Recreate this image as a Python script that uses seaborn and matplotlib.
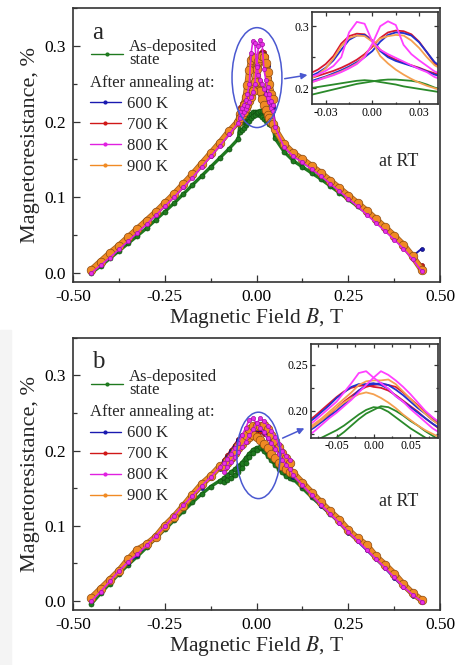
import matplotlib
matplotlib.use("Agg")
import matplotlib.pyplot as plt
import matplotlib.patheffects as pe
import seaborn as sns
from matplotlib.lines import Line2D
from matplotlib.patches import Ellipse, Rectangle
from matplotlib.ticker import MultipleLocator, FormatStrFormatter

# ---------------- data ----------------
LABELS = {"green": "As-deposited\nstate", "blue": "600 K", "red": "700 K",
          "magenta": "800 K", "orange": "900 K"}

# panel a: field grids (T)
A_B_LEFT = [-0.45, -0.425, -0.40, -0.375, -0.35, -0.325, -0.30, -0.275, -0.25,
            -0.225, -0.20, -0.175, -0.15, -0.125, -0.10, -0.075, -0.05]
A_B_RIGHT = [0.05, 0.075, 0.10, 0.125, 0.15, 0.175, 0.20, 0.225, 0.25,
             0.275, 0.30, 0.325, 0.35, 0.375, 0.40, 0.425, 0.45]
A_B_CORE = [-0.045, -0.04, -0.035, -0.03, -0.025, -0.02, -0.015, -0.01, -0.005, 0.0,
            0.005, 0.01, 0.015, 0.02, 0.025, 0.03, 0.035, 0.04, 0.045]

# panel a: magnetoresistance (%)
A_LEFT = {
    "green":   [0.000, 0.009, 0.019, 0.029, 0.039, 0.049, 0.059, 0.070, 0.081, 0.092, 0.104, 0.116, 0.128, 0.140, 0.152, 0.164, 0.177],
    "blue":    [0.001, 0.011, 0.022, 0.033, 0.044, 0.055, 0.066, 0.077, 0.089, 0.101, 0.114, 0.127, 0.141, 0.155, 0.169, 0.183, 0.197],
    "red":     [0.002, 0.012, 0.023, 0.034, 0.045, 0.056, 0.067, 0.078, 0.090, 0.102, 0.115, 0.128, 0.142, 0.156, 0.170, 0.185, 0.199],
    "magenta": [0.000, 0.010, 0.020, 0.031, 0.042, 0.053, 0.064, 0.076, 0.088, 0.100, 0.113, 0.126, 0.140, 0.154, 0.168, 0.183, 0.198],
    "orange":  [0.004, 0.015, 0.026, 0.036, 0.047, 0.058, 0.069, 0.080, 0.092, 0.104, 0.117, 0.130, 0.144, 0.158, 0.172, 0.187, 0.200],
}
A_RIGHT = {
    "green":   [0.178, 0.160, 0.148, 0.140, 0.132, 0.124, 0.115, 0.106, 0.097, 0.088, 0.079, 0.069, 0.059, 0.048, 0.036, 0.022, 0.006],
    "blue":    [0.195, 0.167, 0.155, 0.147, 0.138, 0.129, 0.119, 0.109, 0.099, 0.089, 0.079, 0.068, 0.057, 0.046, 0.035, 0.022, 0.032],
    "red":     [0.195, 0.168, 0.156, 0.148, 0.139, 0.130, 0.120, 0.110, 0.100, 0.090, 0.080, 0.069, 0.059, 0.048, 0.037, 0.024, 0.010],
    "magenta": [0.193, 0.166, 0.154, 0.146, 0.137, 0.128, 0.118, 0.108, 0.098, 0.088, 0.077, 0.066, 0.055, 0.044, 0.032, 0.018, 0.002],
    "orange":  [0.190, 0.170, 0.158, 0.150, 0.141, 0.132, 0.122, 0.112, 0.102, 0.092, 0.082, 0.071, 0.060, 0.049, 0.037, 0.022, 0.004],
}
# sweep with peak at negative field / sweep with peak at positive field
A_CORE_1 = {
    "green":   [0.198, 0.200, 0.202, 0.204, 0.206, 0.208, 0.210, 0.212, 0.213, 0.212, 0.210, 0.208, 0.206, 0.203, 0.201, 0.199, 0.197, 0.195, 0.193],
    "blue":    [0.214, 0.219, 0.225, 0.233, 0.245, 0.262, 0.278, 0.285, 0.286, 0.276, 0.260, 0.250, 0.244, 0.240, 0.236, 0.232, 0.227, 0.222, 0.218],
    "red":     [0.219, 0.224, 0.230, 0.239, 0.252, 0.272, 0.284, 0.288, 0.287, 0.277, 0.262, 0.252, 0.246, 0.241, 0.237, 0.233, 0.228, 0.224, 0.220],
    "magenta": [0.212, 0.218, 0.222, 0.228, 0.236, 0.250, 0.290, 0.307, 0.304, 0.275, 0.262, 0.255, 0.249, 0.243, 0.237, 0.231, 0.226, 0.218, 0.214],
    "orange":  [0.210, 0.215, 0.222, 0.232, 0.248, 0.268, 0.281, 0.285, 0.284, 0.275, 0.252, 0.240, 0.230, 0.222, 0.215, 0.209, 0.204, 0.200, 0.197],
}
A_CORE_2 = {
    "green":   [0.186, 0.189, 0.192, 0.195, 0.198, 0.201, 0.204, 0.207, 0.209, 0.211, 0.213, 0.214, 0.214, 0.213, 0.212, 0.210, 0.206, 0.201, 0.198],
    "blue":    [0.207, 0.211, 0.215, 0.219, 0.224, 0.229, 0.235, 0.242, 0.250, 0.260, 0.275, 0.286, 0.290, 0.289, 0.285, 0.274, 0.258, 0.242, 0.233],
    "red":     [0.212, 0.216, 0.220, 0.224, 0.228, 0.233, 0.239, 0.246, 0.255, 0.267, 0.281, 0.290, 0.293, 0.292, 0.287, 0.275, 0.258, 0.240, 0.232],
    "magenta": [0.205, 0.209, 0.213, 0.217, 0.221, 0.226, 0.232, 0.239, 0.250, 0.272, 0.300, 0.308, 0.302, 0.270, 0.255, 0.245, 0.236, 0.227, 0.222],
    "orange":  [0.205, 0.209, 0.213, 0.218, 0.222, 0.227, 0.233, 0.240, 0.252, 0.270, 0.280, 0.284, 0.286, 0.285, 0.277, 0.265, 0.250, 0.237, 0.230],
}

# panel b: field grids (T)
B_B_LEFT = [-0.45, -0.425, -0.40, -0.375, -0.35, -0.325, -0.30, -0.275,
            -0.25, -0.225, -0.20, -0.175, -0.15, -0.125, -0.10]
B_B_RIGHT = [0.10, 0.125, 0.15, 0.175, 0.20, 0.225, 0.25, 0.275,
             0.30, 0.325, 0.35, 0.375, 0.40, 0.425, 0.45]
B_B_CORE = [-0.09, -0.08, -0.07, -0.06, -0.05, -0.04, -0.03, -0.02, -0.01, 0.0,
            0.01, 0.02, 0.03, 0.04, 0.05, 0.06, 0.07, 0.08, 0.09]

B_LEFT = {
    "green":   [-0.004, 0.010, 0.023, 0.036, 0.048, 0.059, 0.071, 0.083, 0.095, 0.107, 0.119, 0.131, 0.142, 0.152, 0.160],
    "blue":    [0.001, 0.013, 0.027, 0.038, 0.050, 0.061, 0.073, 0.088, 0.098, 0.110, 0.125, 0.138, 0.150, 0.164, 0.176],
    "red":     [0.002, 0.014, 0.025, 0.037, 0.051, 0.063, 0.074, 0.087, 0.100, 0.114, 0.126, 0.139, 0.151, 0.163, 0.177],
    "magenta": [0.000, 0.012, 0.026, 0.040, 0.052, 0.062, 0.074, 0.086, 0.099, 0.113, 0.127, 0.140, 0.153, 0.165, 0.178],
    "orange":  [0.004, 0.016, 0.028, 0.040, 0.055, 0.068, 0.075, 0.085, 0.100, 0.112, 0.126, 0.141, 0.155, 0.166, 0.179],
}
B_RIGHT = {
    "green":   [0.162, 0.150, 0.138, 0.127, 0.116, 0.106, 0.094, 0.083, 0.072, 0.059, 0.049, 0.035, 0.022, 0.010, 0.001],
    "blue":    [0.165, 0.153, 0.139, 0.126, 0.115, 0.103, 0.090, 0.079, 0.067, 0.055, 0.043, 0.030, 0.018, 0.007, -0.001],
    "red":     [0.168, 0.155, 0.143, 0.130, 0.117, 0.106, 0.093, 0.082, 0.070, 0.058, 0.045, 0.033, 0.020, 0.009, 0.000],
    "magenta": [0.167, 0.154, 0.141, 0.128, 0.116, 0.104, 0.092, 0.080, 0.068, 0.056, 0.044, 0.031, 0.019, 0.008, -0.001],
    "orange":  [0.170, 0.157, 0.144, 0.131, 0.119, 0.108, 0.094, 0.083, 0.074, 0.059, 0.048, 0.036, 0.022, 0.010, 0.001],
}
B_CORE_1 = {
    "green":   [0.163, 0.167, 0.171, 0.175, 0.179, 0.184, 0.190, 0.196, 0.201, 0.204, 0.203, 0.199, 0.193, 0.187, 0.181, 0.176, 0.171, 0.166, 0.163],
    "blue":    [0.186, 0.192, 0.199, 0.206, 0.214, 0.220, 0.226, 0.229, 0.229, 0.230, 0.228, 0.224, 0.216, 0.210, 0.204, 0.198, 0.192, 0.186, 0.181],
    "red":     [0.188, 0.194, 0.201, 0.208, 0.215, 0.221, 0.225, 0.227, 0.228, 0.226, 0.225, 0.222, 0.217, 0.211, 0.205, 0.199, 0.192, 0.186, 0.180],
    "magenta": [0.183, 0.189, 0.196, 0.203, 0.210, 0.220, 0.230, 0.241, 0.243, 0.236, 0.230, 0.224, 0.216, 0.210, 0.202, 0.195, 0.188, 0.181, 0.176],
    "orange":  [0.178, 0.184, 0.190, 0.197, 0.203, 0.209, 0.214, 0.218, 0.220, 0.218, 0.214, 0.209, 0.203, 0.196, 0.190, 0.184, 0.179, 0.175, 0.171],
}
B_CORE_2 = {
    "green":   [0.158, 0.161, 0.164, 0.167, 0.171, 0.177, 0.184, 0.191, 0.197, 0.201, 0.205, 0.204, 0.200, 0.195, 0.189, 0.184, 0.178, 0.173, 0.168],
    "blue":    [0.177, 0.182, 0.188, 0.194, 0.200, 0.207, 0.214, 0.222, 0.228, 0.229, 0.230, 0.228, 0.223, 0.217, 0.210, 0.203, 0.197, 0.190, 0.185],
    "red":     [0.178, 0.184, 0.190, 0.196, 0.203, 0.210, 0.216, 0.222, 0.226, 0.228, 0.229, 0.228, 0.226, 0.220, 0.213, 0.206, 0.199, 0.192, 0.186],
    "magenta": [0.172, 0.178, 0.185, 0.192, 0.198, 0.205, 0.212, 0.220, 0.228, 0.236, 0.243, 0.239, 0.233, 0.226, 0.218, 0.209, 0.200, 0.193, 0.187],
    "orange":  [0.180, 0.186, 0.192, 0.199, 0.206, 0.213, 0.220, 0.228, 0.232, 0.233, 0.233, 0.234, 0.229, 0.221, 0.213, 0.205, 0.197, 0.190, 0.184],
}

# ---------------- styles ----------------
MAIN_STYLE = {
    "green":   dict(color="#1f7a1f", mfc="#1f7a1f", mec="#0f4f0f", ms=3.6, lw=2.4, edge=None),
    "blue":    dict(color="#1a1ab0", mfc="#1a1ab0", mec="#0a0a70", ms=2.8, lw=1.4, edge=None),
    "red":     dict(color="#d01818", mfc="#d01818", mec="#800a0a", ms=2.8, lw=1.4, edge=None),
    "magenta": dict(color="#e020e0", mfc="#e830e8", mec="#a010a0", ms=3.0, lw=1.2, edge=None),
    "orange":  dict(color="#f08a24", mfc="#f08a24", mec="#8a4a10", ms=6.2, lw=3.4, edge="#a8621c"),
}
INSET_COLOR = {"green": "#2a8a2a", "blue": "#2030d0", "red": "#d81830",
               "magenta": "#ff40ff", "orange": "#f5a050"}
ORDER = ["green", "red", "blue", "orange", "magenta"]
FRAME = "#333333"
HILITE = "#4a58d0"

sns.set_theme(style="ticks")
plt.rcParams["font.family"] = ["Liberation Serif", "DejaVu Serif"]
plt.rcParams["mathtext.fontset"] = "stix"
plt.rcParams["axes.unicode_minus"] = False

fig = plt.figure(figsize=(4.57, 6.65), dpi=100)
fig.patches.append(Rectangle((0, 0), 11 / 457, 335 / 665, transform=fig.transFigure,
                             color="#f4f4f4", zorder=0))

ax_a = fig.add_axes([0.160, 0.576, 0.803, 0.412])
ax_b = fig.add_axes([0.160, 0.083, 0.803, 0.409])
in_a = fig.add_axes([0.682, 0.844, 0.276, 0.138])
in_b = fig.add_axes([0.680, 0.342, 0.278, 0.140])


def style_axis(ax, fs, major_len, minor_len, both=False):
    for s in ax.spines.values():
        s.set_color(FRAME)
        s.set_linewidth(1.2)
    ax.tick_params(which="both", direction="in", colors=FRAME, labelcolor="black",
                   top=both, right=both, labelsize=fs, width=0.9)
    ax.tick_params(which="major", length=major_len, pad=5)
    ax.tick_params(which="minor", length=minor_len)


def main_line(ax, x, y, st):
    # connecting band first, then the beads on top of it
    sns.lineplot(x=x, y=y, ax=ax, sort=False, estimator=None, color=st["color"],
                 lw=st["lw"])
    if st["edge"]:
        ax.lines[-1].set_path_effects(
            [pe.Stroke(linewidth=st["lw"] + 1.2, foreground=st["edge"]), pe.Normal()])
    sns.lineplot(x=x, y=y, ax=ax, sort=False, estimator=None, color=st["color"],
                 lw=0, marker="o", markersize=st["ms"], markerfacecolor=st["mfc"],
                 markeredgecolor=st["mec"], markeredgewidth=0.5)


def draw_panel(ax, axin, bl, br, bc, left, right, core1, core2):
    for k in ORDER:
        st = MAIN_STYLE[k]
        main_line(ax, bl + bc + br, left[k] + core1[k] + right[k], st)
        main_line(ax, bc, core2[k], st)
        for c in (core1, core2):
            sns.lineplot(x=bc, y=c[k], ax=axin, sort=False, estimator=None,
                         color=INSET_COLOR[k], lw=1.3)

    ax.set_xlim(-0.5, 0.5)
    ax.set_ylim(-0.012, 0.35)
    ax.xaxis.set_major_locator(MultipleLocator(0.25))
    ax.xaxis.set_minor_locator(MultipleLocator(0.125))
    ax.yaxis.set_major_locator(MultipleLocator(0.1))
    ax.yaxis.set_minor_locator(MultipleLocator(0.05))
    ax.xaxis.set_major_formatter(FormatStrFormatter("%.2f"))
    ax.yaxis.set_major_formatter(FormatStrFormatter("%.1f"))
    style_axis(ax, 12.5, 5, 3)
    ax.set_xlabel("Magnetic Field $B$, T", fontsize=15.5, labelpad=1)
    ax.set_ylabel("Magnetoresistance, %", fontsize=16, labelpad=3)

    style_axis(axin, 8.5, 3, 1.8, both=True)
    axin.tick_params(which="major", pad=2)
    axin.set_xlabel("")
    axin.set_ylabel("")

    h_dep = [Line2D([], [], color=MAIN_STYLE["green"]["color"], lw=1, marker="o", ms=3,
                    markeredgewidth=0)]
    leg1 = ax.legend(h_dep, [LABELS["green"]], loc="upper left",
                     bbox_to_anchor=(0.05, 0.885), frameon=False, fontsize=12,
                     handlelength=1.9, handletextpad=0.35, borderpad=0, borderaxespad=0)
    for t in leg1.get_texts():
        t.set_linespacing(0.75)
    ax.add_artist(leg1)
    keys = ["blue", "red", "magenta", "orange"]
    hs = [Line2D([], [], color=MAIN_STYLE[k]["color"], lw=1, marker="o", ms=3,
                 markeredgewidth=0) for k in keys]
    ax.legend(hs, [LABELS[k] for k in keys],
              loc="upper left", bbox_to_anchor=(0.045, 0.755), frameon=False,
              fontsize=12, title="After annealing at:", title_fontsize=12,
              alignment="left", handlelength=1.9, handletextpad=0.35,
              labelspacing=0.3, borderpad=0, borderaxespad=0)


draw_panel(ax_a, in_a, A_B_LEFT, A_B_RIGHT, A_B_CORE, A_LEFT, A_RIGHT, A_CORE_1, A_CORE_2)
draw_panel(ax_b, in_b, B_B_LEFT, B_B_RIGHT, B_B_CORE, B_LEFT, B_RIGHT, B_CORE_1, B_CORE_2)

in_a.set_xlim(-0.039, 0.042)
in_a.set_ylim(0.175, 0.323)
in_a.xaxis.set_major_locator(MultipleLocator(0.03))
in_a.xaxis.set_minor_locator(MultipleLocator(0.015))
in_a.yaxis.set_major_locator(MultipleLocator(0.1))
in_a.yaxis.set_minor_locator(MultipleLocator(0.05))
in_a.xaxis.set_major_formatter(FormatStrFormatter("%.2f"))
in_a.yaxis.set_major_formatter(FormatStrFormatter("%.1f"))

in_b.set_xlim(-0.085, 0.087)
in_b.set_ylim(0.171, 0.272)
in_b.xaxis.set_major_locator(MultipleLocator(0.05))
in_b.xaxis.set_minor_locator(MultipleLocator(0.025))
in_b.yaxis.set_major_locator(MultipleLocator(0.05))
in_b.yaxis.set_minor_locator(MultipleLocator(0.025))
in_b.xaxis.set_major_formatter(FormatStrFormatter("%.2f"))
in_b.yaxis.set_major_formatter(FormatStrFormatter("%.2f"))

# highlight ellipses + arrows toward the insets
ax_a.add_patch(Ellipse((0.001, 0.258), 0.136, 0.132, fill=False, ec=HILITE, lw=1.1, zorder=10))
ax_a.annotate("", xy=(0.146, 0.262), xytext=(0.069, 0.256),
              arrowprops=dict(arrowstyle="-|>", color=HILITE, lw=1.1, mutation_scale=9))
ax_b.add_patch(Ellipse((0.005, 0.1935), 0.118, 0.115, fill=False, ec=HILITE, lw=1.1, zorder=10))
ax_b.annotate("", xy=(0.137, 0.231), xytext=(0.064, 0.215),
              arrowprops=dict(arrowstyle="-|>", color=HILITE, lw=1.1, mutation_scale=9))

for ax, tag, ty in ((ax_a, "a", 0.44), (ax_b, "b", 0.40)):
    ax.text(0.052, 0.95, tag, transform=ax.transAxes, fontsize=18, va="top", ha="left")
    ax.text(0.886, ty, "at RT", transform=ax.transAxes, fontsize=13, va="center", ha="center")

fig.savefig("out.png", dpi=100)
plt.close(fig)
